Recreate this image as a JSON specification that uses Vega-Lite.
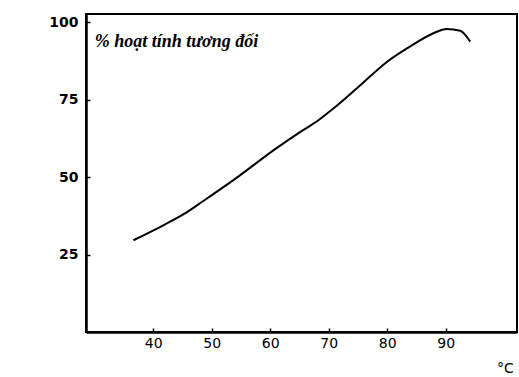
{
  "$schema": "https://vega.github.io/schema/vega-lite/v6.json",
  "width": 431,
  "height": 318,
  "autosize": {"type": "none"},
  "padding": {"left": 86, "top": 14, "right": 2, "bottom": 45},
  "background": "white",
  "config": {
    "view": {"stroke": "black", "strokeWidth": 2},
    "axis": {
      "domainColor": "black",
      "domainWidth": 2.5,
      "tickColor": "black",
      "tickWidth": 1.5,
      "grid": false,
      "labelColor": "black",
      "labelFont": "DejaVu Sans",
      "labelFontSize": 14,
      "titleColor": "black"
    }
  },
  "layer": [
    {
      "data": {
        "values": [
          {"t": 36.6, "a": 29.6},
          {"t": 41.8, "a": 34.5},
          {"t": 45.2, "a": 38.0},
          {"t": 48.5, "a": 42.2},
          {"t": 54.0, "a": 49.4},
          {"t": 60.9, "a": 59.1},
          {"t": 65.1, "a": 64.5},
          {"t": 68.0, "a": 68.0},
          {"t": 70.8, "a": 72.1},
          {"t": 75.4, "a": 79.6},
          {"t": 80.0, "a": 87.2},
          {"t": 83.9, "a": 92.1},
          {"t": 87.9, "a": 96.4},
          {"t": 90.2, "a": 97.8},
          {"t": 92.5, "a": 97.2},
          {"t": 94.2, "a": 93.7}
        ]
      },
      "mark": {"type": "line", "color": "black", "strokeWidth": 2, "interpolate": "monotone"},
      "encoding": {
        "x": {
          "field": "t",
          "type": "quantitative",
          "scale": {"domain": [28.5, 102.2], "nice": false, "zero": false},
          "axis": {
            "values": [40, 50, 60, 70, 80, 90],
            "tickSize": -4,
            "labelPadding": 8,
            "title": "°C",
            "titleFont": "DejaVu Sans",
            "titleFontSize": 14,
            "titleFontWeight": "normal",
            "titleX": 419,
            "titleY": 36,
            "titleAlign": "center",
            "titleBaseline": "middle"
          }
        },
        "y": {
          "field": "a",
          "type": "quantitative",
          "scale": {"domain": [0, 102.6], "nice": false},
          "axis": {
            "values": [25, 50, 75, 100],
            "tickSize": -4,
            "labelPadding": 12,
            "labelFontWeight": "bold",
            "title": null
          }
        }
      }
    },
    {
      "data": {"values": [{"t": 30.0, "a": 93.5, "label": "% hoạt tính tương đối"}]},
      "mark": {"type": "text", "align": "left", "baseline": "middle", "font": "Liberation Serif", "fontStyle": "italic", "fontWeight": "bold", "fontSize": 18, "color": "black"},
      "encoding": {
        "x": {"field": "t", "type": "quantitative"},
        "y": {"field": "a", "type": "quantitative"},
        "text": {"field": "label"}
      }
    }
  ]
}
